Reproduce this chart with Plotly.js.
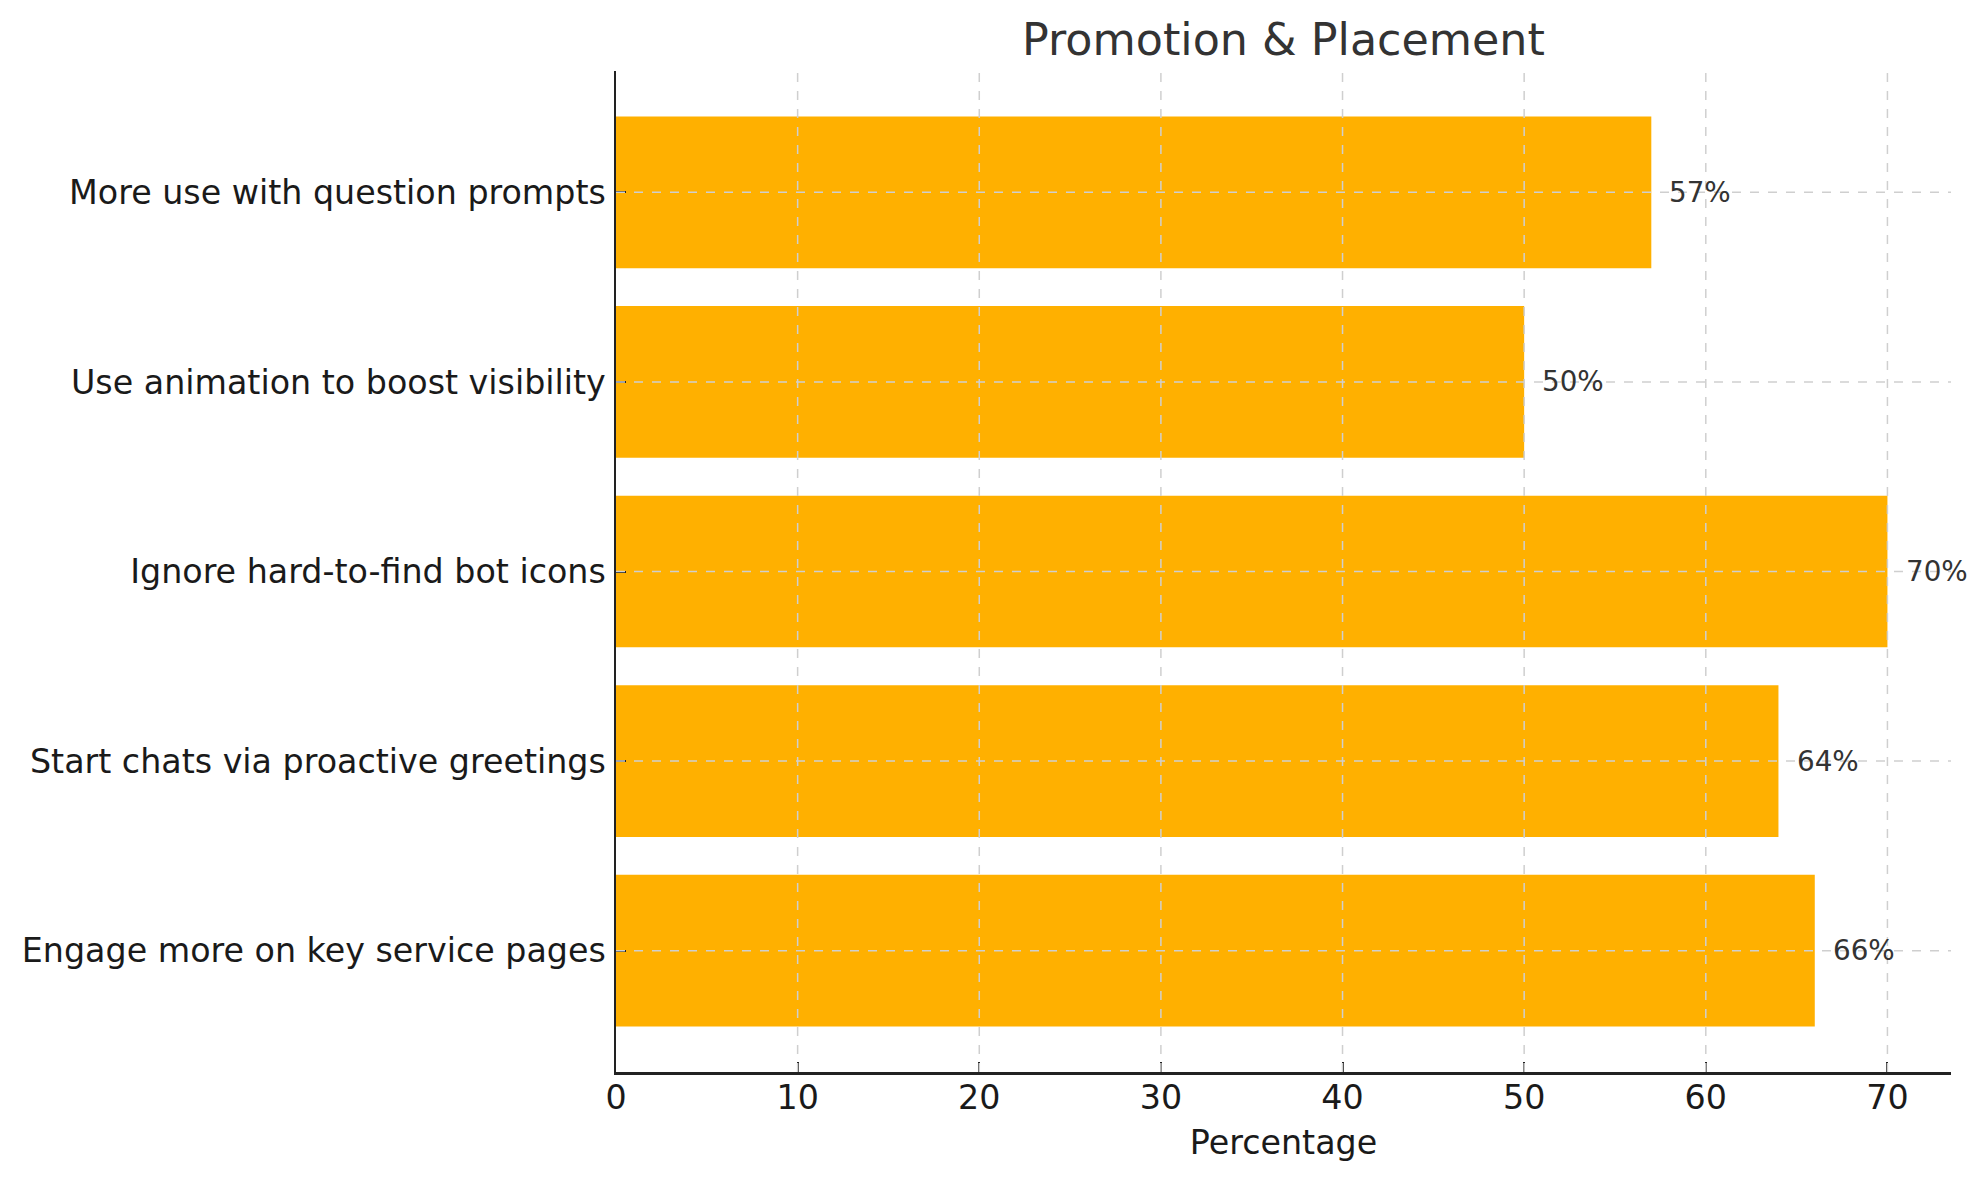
<!DOCTYPE html>
<html>
<head>
<meta charset="utf-8">
<script src="https://cdn.plot.ly/plotly-3.0.1.min.js"></script>
<style>
  html, body { margin: 0; padding: 0; background: #fff; }
  #chart { width: 1987px; height: 1180px; }
</style>
</head>
<body>
<div id="chart"></div>
<script>
// ── Data ─────────────────────────────────────
const categories = [
  "Engage more on key service pages",
  "Start chats via proactive greetings",
  "Ignore hard-to-find bot icons",
  "Use animation to boost visibility",
  "More use with question prompts",
];
const percentages = [66, 64, 70, 50, 57];
const xTicks = [0, 10, 20, 30, 40, 50, 60, 70];

const FONT = "DejaVu Sans, sans-serif";
const GRID = { color: "#cfcfcf", width: 1.5, dash: "dash" };

// ── Grid drawn over the bars (like matplotlib) ─
const gridShapes = [
  ...xTicks.filter((t) => t > 0).map((t) => ({
    type: "line", layer: "above",
    xref: "x", yref: "paper", x0: t, x1: t, y0: 0, y1: 1,
    line: GRID,
  })),
  ...categories.map((c) => ({
    type: "line", layer: "above",
    xref: "paper", yref: "y", x0: 0, x1: 1, y0: c, y1: c,
    line: GRID,
  })),
];

// ── Value labels ──────────────────────────────
const valueLabels = categories.map((c, i) => ({
  x: percentages[i] + 1,
  y: c,
  xref: "x", yref: "y",
  text: percentages[i] + "%",
  showarrow: false,
  xanchor: "left",
  yanchor: "middle",
  xshift: -2,
  font: { family: FONT, size: 27.8, color: "#333333" },
}));

const trace = {
  type: "bar",
  orientation: "h",
  x: percentages,
  y: categories,
  width: 0.8,
  marker: { color: "#FFB000", line: { width: 0 } },
  hoverinfo: "skip",
};

const layout = {
  width: 1987,
  height: 1180,
  paper_bgcolor: "#ffffff",
  plot_bgcolor: "#ffffff",
  margin: { l: 616, r: 36, t: 71, b: 108 },
  showlegend: false,
  font: { family: FONT, color: "#1a1a1a" },
  title: {
    text: "Promotion & Placement",
    font: { family: FONT, size: 44.4, color: "#333333" },
    x: 0.5, xref: "paper", xanchor: "center",
    y: 1 - 39 / 1180, yref: "container", yanchor: "middle",
  },
  xaxis: {
    range: [0, 73.5],
    tickvals: xTicks,
    ticktext: xTicks.map(String),
    ticks: "inside",
    ticklen: 10,
    tickwidth: 2,
    tickcolor: "#222222",
    tickfont: { family: FONT, size: 33.3, color: "#1a1a1a" },
    ticklabelstandoff: -5,
    showgrid: false,
    zeroline: false,
    showline: true,
    linecolor: "#222222",
    linewidth: 2.5,
    layer: "above traces",
    title: {
      text: "Percentage",
      font: { family: FONT, size: 33.3, color: "#1a1a1a" },
      standoff: 14,
    },
  },
  yaxis: {
    type: "category",
    range: [-0.64, 4.64],
    ticks: "inside",
    ticklen: 10,
    tickwidth: 2,
    tickcolor: "#222222",
    tickfont: { family: FONT, size: 33.3, color: "#1a1a1a" },
    ticklabelstandoff: 1,
    showgrid: false,
    zeroline: false,
    showline: true,
    linecolor: "#222222",
    linewidth: 2.5,
    layer: "above traces",
  },
  shapes: gridShapes,
  annotations: valueLabels,
};

Plotly.newPlot("chart", [trace], layout, { staticPlot: true, displayModeBar: false });
</script>
</body>
</html>
